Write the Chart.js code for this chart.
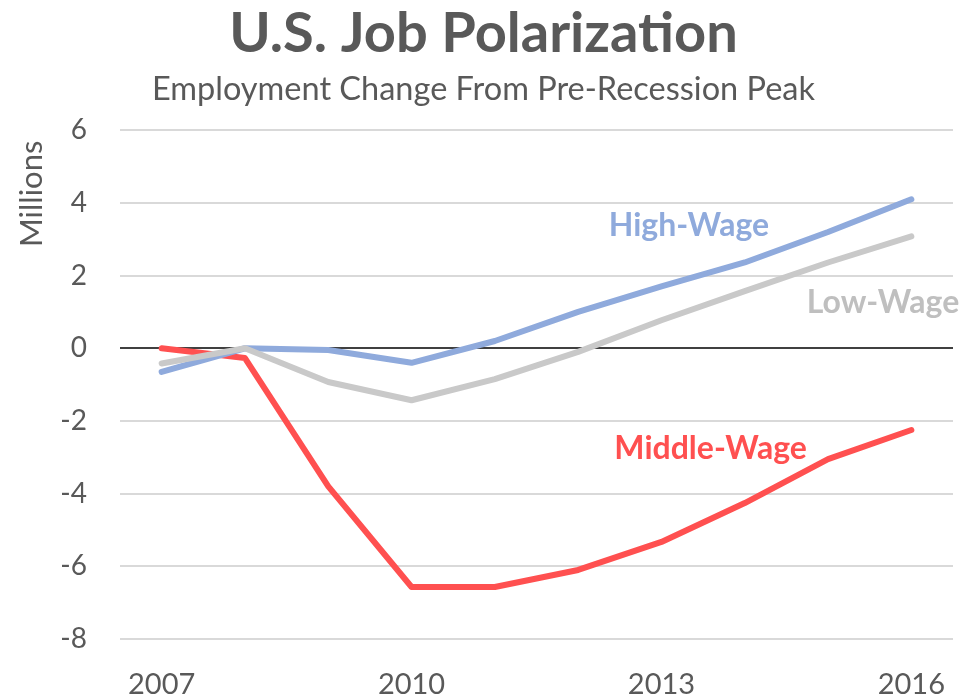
<!DOCTYPE html>
<html>
<head>
<meta charset="utf-8">
<script src="https://cdn.jsdelivr.net/npm/chart.js@4/dist/chart.umd.min.js"></script>
<style>
  html, body { margin: 0; padding: 0; background: #fff; }
  #wrap { width: 967px; height: 700px; }
</style>
</head>
<body>
<div id="wrap"><canvas id="jobChart"></canvas></div>
<script>
const years = ["2007", "2008", "2009", "2010", "2011", "2012", "2013", "2014", "2015", "2016"];
const shownYears = ["2007", "2010", "2013", "2016"];

const highWage = [-0.65, 0, -0.05, -0.4, 0.2, 1.0, 1.7, 2.36, 3.2, 4.1];
const lowWage = [-0.42, 0, -0.93, -1.43, -0.85, -0.1, 0.77, 1.57, 2.36, 3.08];
const middleWage = [0, -0.27, -3.8, -6.57, -6.57, -6.1, -5.33, -4.26, -3.05, -2.25];

const yTicks = [-8, -6, -4, -2, 0, 2, 4, 6];

const textGray = "#595959";
const fontName = "Lato, 'Open Sans', sans-serif";

// series names written next to the lines, anchored in data units
const seriesLabels = [
  { text: "High-Wage", x: 6.33, y: 3.38, color: "#8FAADC" },
  { text: "Low-Wage", x: 8.66, y: 1.26, color: "#BFBFBF" },
  { text: "Middle-Wage", x: 6.59, y: -2.75, color: "#FF5050" }
];

const lineLabels = {
  id: "lineLabels",
  afterDatasetsDraw(chart) {
    const ctx = chart.ctx;
    const xs = chart.scales.x;
    const ys = chart.scales.y;
    ctx.save();
    ctx.font = "bold 32px " + fontName;
    ctx.textAlign = "center";
    ctx.textBaseline = "middle";
    seriesLabels.forEach((l) => {
      ctx.fillStyle = l.color;
      ctx.fillText(l.text, xs.getPixelForValue(l.x), ys.getPixelForValue(l.y));
    });

    // axis unit, sitting up near the top of the value axis
    ctx.translate(32, ys.getPixelForValue(4.25));
    ctx.rotate(-Math.PI / 2);
    ctx.font = "31px " + fontName;
    ctx.fillStyle = textGray;
    ctx.fillText("Millions", 0, 0);
    ctx.restore();
  }
};

function lineSet(label, data, color) {
  return {
    label: label,
    data: data,
    borderColor: color,
    borderWidth: 6,
    pointRadius: 0,
    borderCapStyle: "round",
    borderJoinStyle: "round",
    tension: 0
  };
}

const ctx = document.getElementById("jobChart").getContext("2d");
new Chart(ctx, {
  type: "line",
  data: {
    labels: years,
    datasets: [
      lineSet("Low-Wage", lowWage, "#C9C9C9"),
      lineSet("High-Wage", highWage, "#8FAADC"),
      lineSet("Middle-Wage", middleWage, "#FF5050")
    ]
  },
  options: {
    animation: false,
    responsive: true,
    maintainAspectRatio: false,
    layout: { padding: 0 },
    plugins: {
      legend: { display: false },
      tooltip: { enabled: false },
      title: {
        display: true,
        text: "U.S. Job Polarization",
        color: textGray,
        font: { family: fontName, size: 56, weight: "bold" },
        padding: { top: 0, bottom: 0 }
      },
      subtitle: {
        display: true,
        text: "Employment Change From Pre-Recession Peak",
        color: textGray,
        font: { family: fontName, size: 32.5 },
        padding: { top: 3, bottom: 21 }
      }
    },
    scales: {
      x: {
        offset: true,
        grid: { display: false, drawTicks: false },
        border: { display: false },
        ticks: {
          color: textGray,
          font: { family: fontName, size: 29 },
          padding: 28,
          maxRotation: 0,
          autoSkip: false,
          callback: function (value) {
            const lbl = this.getLabelForValue(value);
            return shownYears.includes(lbl) ? lbl : "";
          }
        },
        afterFit(scale) {
          scale.height = 61;
          scale.paddingLeft = 0;
          scale.paddingRight = 14;
        }
      },
      y: {
        min: -8,
        max: 6,
        afterBuildTicks(scale) {
          scale.ticks = yTicks.map((v) => ({ value: v }));
        },
        grid: {
          drawTicks: false,
          lineWidth: 2,
          color: (c) => (c.tick && c.tick.value === 0 ? "#404040" : "#D9D9D9")
        },
        border: { display: false },
        ticks: {
          color: textGray,
          font: { family: fontName, size: 28 },
          padding: 33
        },
        afterFit(scale) { scale.width = 120; }
      }
    }
  },
  plugins: [lineLabels]
});
</script>
</body>
</html>
